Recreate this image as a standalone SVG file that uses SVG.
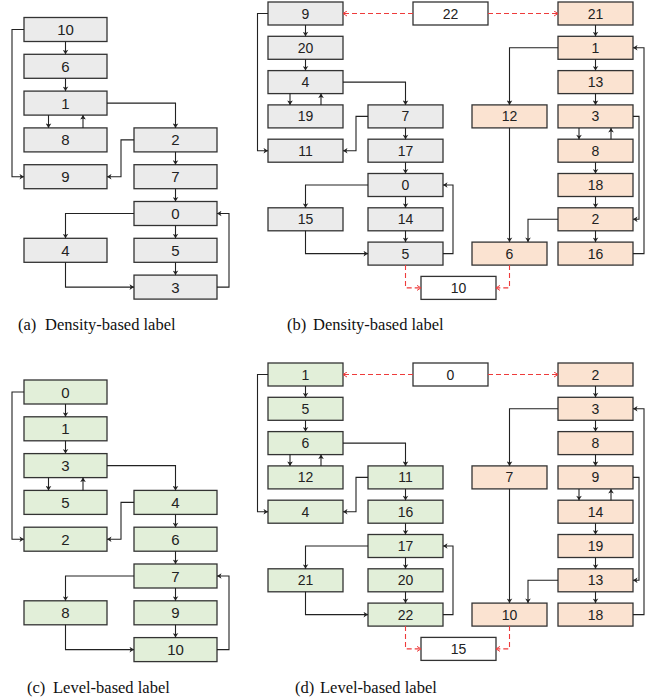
<svg xmlns="http://www.w3.org/2000/svg" width="645" height="700" viewBox="0 0 645 700">
<style>
.n rect{stroke:#333;stroke-width:1.3}
.g rect{fill:#ebebeb}
.gr rect{fill:#e2efd9}
.o rect{fill:#fbe3d1}
.w rect{fill:#fff}
.n text{font-family:"Liberation Sans",Arial,sans-serif;font-size:14px;fill:#222;text-anchor:middle;dominant-baseline:central}
.big text{font-size:15px}
.e path{fill:none;stroke:#222;stroke-width:1.1;marker-end:url(#ah)}
.e path.r{stroke:#ee3b3b;stroke-dasharray:5 3;marker-end:url(#rh)}
.cap{font-family:"Liberation Serif","Times New Roman",serif;font-size:16.5px;fill:#111}
</style>
<defs>
<marker id="ah" viewBox="-5 -3 6 6" refX="0" refY="0" markerWidth="6" markerHeight="6" markerUnits="userSpaceOnUse" orient="auto"><path d="M-4.5,-2.8 L0,0 L-4.5,2.8 L-3.3,0 Z" fill="#222"/></marker>
<marker id="rh" viewBox="-5 -3 6 6" refX="0" refY="0" markerWidth="6" markerHeight="6" markerUnits="userSpaceOnUse" orient="auto"><path d="M-4,-2.5 L0,0 L-4,2.5" fill="none" stroke="#ee3b3b" stroke-width="1"/></marker>
</defs>

<g class="big">
<!-- Panel (a) -->
<g id="a-10" class="n g"><rect x="24" y="17.5" width="83" height="24"/><text x="65.5" y="29.5">10</text></g>
<g id="a-6" class="n g"><rect x="24" y="54.3" width="83" height="24"/><text x="65.5" y="66.3">6</text></g>
<g id="a-1" class="n g"><rect x="24" y="91.1" width="83" height="24"/><text x="65.5" y="103.1">1</text></g>
<g id="a-8" class="n g"><rect x="24" y="127.9" width="83" height="24"/><text x="65.5" y="139.9">8</text></g>
<g id="a-9" class="n g"><rect x="24" y="164.7" width="83" height="24"/><text x="65.5" y="176.7">9</text></g>
<g id="a-4" class="n g"><rect x="24" y="238.3" width="83" height="24"/><text x="65.5" y="250.3">4</text></g>
<g id="a-2" class="n g"><rect x="134" y="127.9" width="83" height="24"/><text x="175.5" y="139.9">2</text></g>
<g id="a-7" class="n g"><rect x="134" y="164.7" width="83" height="24"/><text x="175.5" y="176.7">7</text></g>
<g id="a-0" class="n g"><rect x="134" y="201.5" width="83" height="24"/><text x="175.5" y="213.5">0</text></g>
<g id="a-5" class="n g"><rect x="134" y="238.3" width="83" height="24"/><text x="175.5" y="250.3">5</text></g>
<g id="a-3" class="n g"><rect x="134" y="275.1" width="83" height="24"/><text x="175.5" y="287.1">3</text></g>

<!-- Panel (c) -->
<g id="c-0" class="n gr"><rect x="24" y="380" width="83" height="24"/><text x="65.5" y="392">0</text></g>
<g id="c-1" class="n gr"><rect x="24" y="416.8" width="83" height="24"/><text x="65.5" y="428.8">1</text></g>
<g id="c-3" class="n gr"><rect x="24" y="453.6" width="83" height="24"/><text x="65.5" y="465.6">3</text></g>
<g id="c-5" class="n gr"><rect x="24" y="490.4" width="83" height="24"/><text x="65.5" y="502.4">5</text></g>
<g id="c-2" class="n gr"><rect x="24" y="527.2" width="83" height="24"/><text x="65.5" y="539.2">2</text></g>
<g id="c-8" class="n gr"><rect x="24" y="600.8" width="83" height="24"/><text x="65.5" y="612.8">8</text></g>
<g id="c-4" class="n gr"><rect x="134" y="490.4" width="83" height="24"/><text x="175.5" y="502.4">4</text></g>
<g id="c-6" class="n gr"><rect x="134" y="527.2" width="83" height="24"/><text x="175.5" y="539.2">6</text></g>
<g id="c-7" class="n gr"><rect x="134" y="564" width="83" height="24"/><text x="175.5" y="576">7</text></g>
<g id="c-9" class="n gr"><rect x="134" y="600.8" width="83" height="24"/><text x="175.5" y="612.8">9</text></g>
<g id="c-10" class="n gr"><rect x="134" y="637.6" width="83" height="24"/><text x="175.5" y="649.6">10</text></g>
</g>

<!-- Panel (b) -->
<g id="b-9" class="n g"><rect x="268" y="2" width="75" height="23"/><text x="305.5" y="13.5">9</text></g>
<g id="b-20" class="n g"><rect x="268" y="36.3" width="75" height="23"/><text x="305.5" y="47.8">20</text></g>
<g id="b-4" class="n g"><rect x="268" y="70.6" width="75" height="23"/><text x="305.5" y="82.1">4</text></g>
<g id="b-19" class="n g"><rect x="268" y="104.9" width="75" height="23"/><text x="305.5" y="116.4">19</text></g>
<g id="b-11" class="n g"><rect x="268" y="139.2" width="75" height="23"/><text x="305.5" y="150.7">11</text></g>
<g id="b-15" class="n g"><rect x="268" y="207.8" width="75" height="23"/><text x="305.5" y="219.3">15</text></g>
<g id="b-7" class="n g"><rect x="368" y="104.9" width="75" height="23"/><text x="405.5" y="116.4">7</text></g>
<g id="b-17" class="n g"><rect x="368" y="139.2" width="75" height="23"/><text x="405.5" y="150.7">17</text></g>
<g id="b-0" class="n g"><rect x="368" y="173.5" width="75" height="23"/><text x="405.5" y="185">0</text></g>
<g id="b-14" class="n g"><rect x="368" y="207.8" width="75" height="23"/><text x="405.5" y="219.3">14</text></g>
<g id="b-5" class="n g"><rect x="368" y="242.1" width="75" height="23"/><text x="405.5" y="253.6">5</text></g>
<g id="b-22" class="n w"><rect x="413" y="2" width="75" height="23"/><text x="450.5" y="13.5">22</text></g>
<g id="b-10" class="n w"><rect x="421" y="276.4" width="75" height="23"/><text x="458.5" y="287.9">10</text></g>
<g id="b-21" class="n o"><rect x="558" y="2" width="75" height="23"/><text x="595.5" y="13.5">21</text></g>
<g id="b-1" class="n o"><rect x="558" y="36.3" width="75" height="23"/><text x="595.5" y="47.8">1</text></g>
<g id="b-13" class="n o"><rect x="558" y="70.6" width="75" height="23"/><text x="595.5" y="82.1">13</text></g>
<g id="b-3" class="n o"><rect x="558" y="104.9" width="75" height="23"/><text x="595.5" y="116.4">3</text></g>
<g id="b-8" class="n o"><rect x="558" y="139.2" width="75" height="23"/><text x="595.5" y="150.7">8</text></g>
<g id="b-18" class="n o"><rect x="558" y="173.5" width="75" height="23"/><text x="595.5" y="185">18</text></g>
<g id="b-2" class="n o"><rect x="558" y="207.8" width="75" height="23"/><text x="595.5" y="219.3">2</text></g>
<g id="b-16" class="n o"><rect x="558" y="242.1" width="75" height="23"/><text x="595.5" y="253.6">16</text></g>
<g id="b-12" class="n o"><rect x="472" y="104.9" width="75" height="23"/><text x="509.5" y="116.4">12</text></g>
<g id="b-6" class="n o"><rect x="472" y="242.1" width="75" height="23"/><text x="509.5" y="253.6">6</text></g>

<!-- Panel (d) -->
<g id="d-1" class="n gr"><rect x="268" y="363" width="75" height="23"/><text x="305.5" y="374.5">1</text></g>
<g id="d-5" class="n gr"><rect x="268" y="397.3" width="75" height="23"/><text x="305.5" y="408.8">5</text></g>
<g id="d-6" class="n gr"><rect x="268" y="431.6" width="75" height="23"/><text x="305.5" y="443.1">6</text></g>
<g id="d-12" class="n gr"><rect x="268" y="465.9" width="75" height="23"/><text x="305.5" y="477.4">12</text></g>
<g id="d-4" class="n gr"><rect x="268" y="500.2" width="75" height="23"/><text x="305.5" y="511.7">4</text></g>
<g id="d-21" class="n gr"><rect x="268" y="568.8" width="75" height="23"/><text x="305.5" y="580.3">21</text></g>
<g id="d-11" class="n gr"><rect x="368" y="465.9" width="75" height="23"/><text x="405.5" y="477.4">11</text></g>
<g id="d-16" class="n gr"><rect x="368" y="500.2" width="75" height="23"/><text x="405.5" y="511.7">16</text></g>
<g id="d-17" class="n gr"><rect x="368" y="534.5" width="75" height="23"/><text x="405.5" y="546">17</text></g>
<g id="d-20" class="n gr"><rect x="368" y="568.8" width="75" height="23"/><text x="405.5" y="580.3">20</text></g>
<g id="d-22" class="n gr"><rect x="368" y="603.1" width="75" height="23"/><text x="405.5" y="614.6">22</text></g>
<g id="d-0" class="n w"><rect x="413" y="363" width="75" height="23"/><text x="450.5" y="374.5">0</text></g>
<g id="d-15" class="n w"><rect x="421" y="637.4" width="75" height="23"/><text x="458.5" y="648.9">15</text></g>
<g id="d-2" class="n o"><rect x="558" y="363" width="75" height="23"/><text x="595.5" y="374.5">2</text></g>
<g id="d-3" class="n o"><rect x="558" y="397.3" width="75" height="23"/><text x="595.5" y="408.8">3</text></g>
<g id="d-8" class="n o"><rect x="558" y="431.6" width="75" height="23"/><text x="595.5" y="443.1">8</text></g>
<g id="d-9" class="n o"><rect x="558" y="465.9" width="75" height="23"/><text x="595.5" y="477.4">9</text></g>
<g id="d-14" class="n o"><rect x="558" y="500.2" width="75" height="23"/><text x="595.5" y="511.7">14</text></g>
<g id="d-19" class="n o"><rect x="558" y="534.5" width="75" height="23"/><text x="595.5" y="546">19</text></g>
<g id="d-13" class="n o"><rect x="558" y="568.8" width="75" height="23"/><text x="595.5" y="580.3">13</text></g>
<g id="d-18" class="n o"><rect x="558" y="603.1" width="75" height="23"/><text x="595.5" y="614.6">18</text></g>
<g id="d-7" class="n o"><rect x="472" y="465.9" width="75" height="23"/><text x="509.5" y="477.4">7</text></g>
<g id="d-10" class="n o"><rect x="472" y="603.1" width="75" height="23"/><text x="509.5" y="614.6">10</text></g>

<g id="connectors" class="e">
<!-- (a) -->
<path d="M65.5,41.5 V54.3"/>
<path d="M65.5,78.3 V91.1"/>
<path d="M24,29.5 H12 V176.7 H24"/>
<path d="M107,103.1 H175.5 V127.9"/>
<path d="M48.5,115.1 V127.9"/>
<path d="M83,127.9 V115.1"/>
<path d="M134,139.9 H121 V176.7 H107"/>
<path d="M175.5,151.9 V164.7"/>
<path d="M175.5,188.7 V201.5"/>
<path d="M134,213.5 H65.5 V238.3"/>
<path d="M175.5,225.5 V238.3"/>
<path d="M175.5,262.3 V275.1"/>
<path d="M65.5,262.3 V287.1 H134"/>
<path d="M217,287.1 H229 V213.5 H217"/>
<!-- (c) -->
<path d="M65.5,404 V416.8"/>
<path d="M65.5,440.8 V453.6"/>
<path d="M24,392 H12 V539.2 H24"/>
<path d="M107,465.6 H175.5 V490.4"/>
<path d="M48.5,477.6 V490.4"/>
<path d="M83,490.4 V477.6"/>
<path d="M134,502.4 H121 V539.2 H107"/>
<path d="M175.5,514.4 V527.2"/>
<path d="M175.5,551.2 V564"/>
<path d="M134,576 H65.5 V600.8"/>
<path d="M175.5,588 V600.8"/>
<path d="M175.5,624.8 V637.6"/>
<path d="M65.5,624.8 V649.6 H134"/>
<path d="M217,649.6 H229 V576 H217"/>
<!-- (b) -->
<path class="r" d="M413,13.5 H343"/>
<path class="r" d="M488,13.5 H558"/>
<path d="M305.5,25 V36.3"/>
<path d="M305.5,59.3 V70.6"/>
<path d="M268,13.5 H257.5 V150.7 H268"/>
<path d="M343,82.1 H405.5 V104.9"/>
<path d="M290,93.6 V104.9"/>
<path d="M321,104.9 V93.6"/>
<path d="M368,116.4 H356 V150.7 H343"/>
<path d="M405.5,127.9 V139.2"/>
<path d="M405.5,162.2 V173.5"/>
<path d="M368,185 H305.5 V207.8"/>
<path d="M405.5,196.5 V207.8"/>
<path d="M405.5,230.8 V242.1"/>
<path d="M305.5,230.8 V253.6 H368"/>
<path d="M443,253.6 H453 V185 H443"/>
<path class="r" d="M405.5,265.1 V287.9 H421"/>
<path class="r" d="M509.5,265.1 V287.9 H496"/>
<path d="M595.5,25 V36.3"/>
<path d="M558,47.8 H509.5 V104.9"/>
<path d="M595.5,59.3 V70.6"/>
<path d="M595.5,93.6 V104.9"/>
<path d="M579,127.9 V139.2"/>
<path d="M611,139.2 V127.9"/>
<path d="M595.5,162.2 V173.5"/>
<path d="M595.5,196.5 V207.8"/>
<path d="M633,116.4 H639 V219.3 H633"/>
<path d="M595.5,230.8 V242.1"/>
<path d="M633,253.6 H644 V47.8 H633"/>
<path d="M558,219.3 H528 V242.1"/>
<path d="M509.5,127.9 V242.1"/>
<!-- (d) -->
<path class="r" d="M413,374.5 H343"/>
<path class="r" d="M488,374.5 H558"/>
<path d="M305.5,386 V397.3"/>
<path d="M305.5,420.3 V431.6"/>
<path d="M268,374.5 H257.5 V511.7 H268"/>
<path d="M343,443.1 H405.5 V465.9"/>
<path d="M290,454.6 V465.9"/>
<path d="M321,465.9 V454.6"/>
<path d="M368,477.4 H356 V511.7 H343"/>
<path d="M405.5,488.9 V500.2"/>
<path d="M405.5,523.2 V534.5"/>
<path d="M368,546 H305.5 V568.8"/>
<path d="M405.5,557.5 V568.8"/>
<path d="M405.5,591.8 V603.1"/>
<path d="M305.5,591.8 V614.6 H368"/>
<path d="M443,614.6 H453 V546 H443"/>
<path class="r" d="M405.5,626.1 V648.9 H421"/>
<path class="r" d="M509.5,626.1 V648.9 H496"/>
<path d="M595.5,386 V397.3"/>
<path d="M558,408.8 H509.5 V465.9"/>
<path d="M595.5,420.3 V431.6"/>
<path d="M595.5,454.6 V465.9"/>
<path d="M579,488.9 V500.2"/>
<path d="M611,500.2 V488.9"/>
<path d="M595.5,523.2 V534.5"/>
<path d="M595.5,557.5 V568.8"/>
<path d="M633,477.4 H639 V580.3 H633"/>
<path d="M595.5,591.8 V603.1"/>
<path d="M633,614.6 H644 V408.8 H633"/>
<path d="M558,580.3 H528 V603.1"/>
<path d="M509.5,488.9 V603.1"/>
</g>

<text class="cap" x="18" y="329.5">(a)<tspan x="45">Density-based label</tspan></text>
<text class="cap" x="287" y="329.5">(b)<tspan x="313">Density-based label</tspan></text>
<text class="cap" x="27" y="693">(c)<tspan x="53">Level-based label</tspan></text>
<text class="cap" x="295" y="693">(d)<tspan x="320">Level-based label</tspan></text>
</svg>
